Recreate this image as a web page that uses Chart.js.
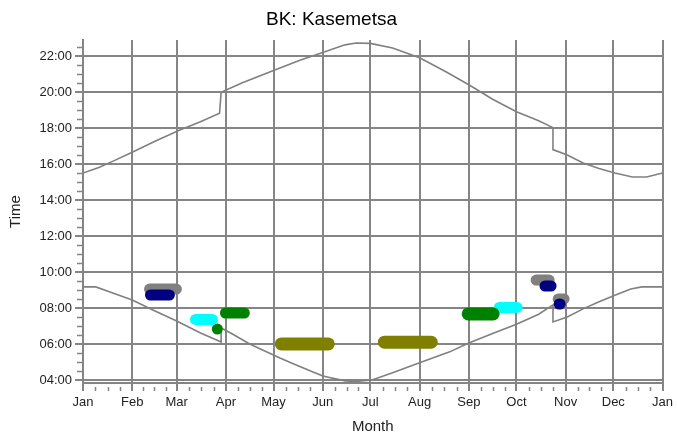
<!DOCTYPE html>
<html>
<head>
<meta charset="utf-8">
<script src="https://cdn.jsdelivr.net/npm/chart.js@4/dist/chart.umd.min.js"></script>
<style>
    body { margin: 0; background: #fff; }
    #wrap { width: 677px; height: 439px; }
</style>
</head>
<body>
<div id="wrap"><canvas id="sun_chart"></canvas></div>
<script>
const monthNames = ['Jan', 'Feb', 'Mar', 'Apr', 'May', 'Jun', 'Jul', 'Aug', 'Sep', 'Oct', 'Nov', 'Dec', 'Jan'];
const monthStarts = [0, 31, 59, 90, 120, 151, 181, 212, 243, 273, 304, 334, 365];
const hourTicks = [4, 6, 8, 10, 12, 14, 16, 18, 20, 22];

// sunset (day of year, hours)
const sunsetDays = [0, 10, 20, 31, 45, 61, 74, 86, 87, 100, 120, 137, 151, 165, 172, 181, 195, 212, 228, 243, 258, 273, 287, 296, 296, 305, 315, 325, 335, 346, 355, 365];
const sunsetHours = [15.5, 15.8, 16.2, 16.65, 17.25, 17.89, 18.35, 18.82, 19.98, 20.5, 21.2, 21.78, 22.2, 22.62, 22.72, 22.7, 22.45, 21.9, 21.15, 20.4, 19.6, 18.9, 18.4, 18.02, 16.8, 16.5, 16.06, 15.75, 15.5, 15.28, 15.28, 15.5];

// sunrise (day of year, hours)
const sunriseDays = [0, 8, 17, 31, 44, 59, 74, 87, 87, 93, 105, 124, 135, 151, 165, 172, 182, 195, 212, 231, 243, 258, 273, 287, 296, 296, 305, 315, 325, 335, 345, 352, 365];
const sunriseHours = [9.17, 9.17, 8.89, 8.44, 7.89, 7.28, 6.61, 6.11, 6.89, 6.61, 6.0, 5.22, 4.8, 4.22, 3.95, 3.92, 4.0, 4.4, 4.96, 5.56, 6.05, 6.58, 7.1, 7.65, 8.17, 7.22, 7.5, 7.95, 8.35, 8.7, 9.05, 9.17, 9.17];

// observations: start day, end day, time (hours)
const obsStart = [41.9, 42.5, 70.8, 89.7, 84.6, 124.9, 189.8, 242.6, 262.2, 285.4, 291.0, 299.3, 299.9];
const obsEnd = [58.8, 54.4, 81.5, 101.6, 84.8, 154.5, 219.3, 258.3, 273.4, 293.6, 294.8, 303.0, 300.5];
const obsTime = [9.05, 8.72, 7.36, 7.72, 6.83, 6.0, 6.1, 7.67, 8.03, 9.55, 9.22, 8.5, 8.22];
const obsColors = ['#808080', '#000080', '#00ffff', '#008000', '#008000', '#808000', '#808000', '#008000', '#00ffff', '#808080', '#000080', '#808080', '#000080'];

const gridGray = '#858585';
const fontFamily = "'Liberation Sans', Arial, sans-serif";

function toPoints(xs, ys) {
    return xs.map(function (x, i) {
        return {x: x, y: ys[i]};
    });
}

function isMonthStart(value) {
    return monthStarts.indexOf(value) !== -1;
}

function isMajorHour(value) {
    return hourTicks.indexOf(value) !== -1;
}

function buildDatasets() {
    const datasets = [];
    obsStart.forEach(function (start, i) {
        const color = obsColors[i];
        datasets.push({
            data: [{x: start, y: obsTime[i]}, {x: obsEnd[i], y: obsTime[i]}],
            borderColor: color,
            backgroundColor: color,
            borderWidth: (color === '#808000' || i === 7) ? 13 : 11,
            borderCapStyle: 'round',
            showLine: true,
            pointRadius: 0,
            order: color === '#808080' ? 2 : 1
        });
    });
    datasets.push({
        data: toPoints(sunsetDays, sunsetHours),
        borderColor: '#808080',
        borderWidth: 1.6,
        showLine: true,
        pointRadius: 0,
        order: 3
    });
    datasets.push({
        data: toPoints(sunriseDays, sunriseHours),
        borderColor: '#808080',
        borderWidth: 1.6,
        showLine: true,
        pointRadius: 0,
        order: 3
    });
    return datasets;
}

const minorTicks = {
    id: 'minorTicks',
    afterDraw: function (chart) {
        const ctx = chart.ctx;
        const xScale = chart.scales.x;
        const yScale = chart.scales.y;
        ctx.save();
        ctx.strokeStyle = gridGray;
        ctx.lineWidth = 1.5;
        ctx.beginPath();
        xScale.ticks.forEach(function (t) {
            if (!isMonthStart(t.value)) {
                const px = Math.round(xScale.getPixelForValue(t.value)) + 0.5;
                ctx.moveTo(px, chart.chartArea.bottom + 4);
                ctx.lineTo(px, chart.chartArea.bottom + 8);
            }
        });
        yScale.ticks.forEach(function (t) {
            if (!isMajorHour(t.value)) {
                const py = Math.round(yScale.getPixelForValue(t.value)) + 0.5;
                ctx.moveTo(chart.chartArea.left - 1, py);
                ctx.lineTo(chart.chartArea.left - 6, py);
            }
        });
        ctx.stroke();
        ctx.restore();
    }
};

const chartElement = document.getElementById('sun_chart').getContext('2d');
const sunChart = new Chart(chartElement, {
    type: 'scatter',
    data: {datasets: buildDatasets()},
    plugins: [minorTicks],
    options: {
        responsive: true,
        maintainAspectRatio: false,
        animation: false,
        layout: {padding: {left: 0, right: 14, top: 0, bottom: 0}},
        plugins: {
            legend: {display: false},
            tooltip: {enabled: false},
            title: {
                display: true,
                text: 'BK: Kasemetsa',
                color: '#000',
                font: {family: fontFamily, size: 19, weight: 'normal', lineHeight: 1.2},
                padding: {top: 8, bottom: 9.2}
            }
        },
        scales: {
            x: {
                type: 'linear',
                min: 0,
                max: 365,
                afterBuildTicks: function (scale) {
                    const ticks = [];
                    for (let m = 0; m < 12; m++) {
                        const a = monthStarts[m];
                        const b = monthStarts[m + 1];
                        for (let q = 0; q < 4; q++) {
                            ticks.push({value: q === 0 ? a : a + (b - a) * q / 4});
                        }
                    }
                    ticks.push({value: 365});
                    scale.ticks = ticks;
                },
                afterFit: function (scale) {
                    scale.height = 56;
                },
                ticks: {
                    autoSkip: false,
                    maxRotation: 0,
                    padding: 4,
                    color: '#222',
                    font: {family: fontFamily, size: 13},
                    callback: function (value) {
                        const i = monthStarts.indexOf(value);
                        return i === -1 ? '' : monthNames[i];
                    }
                },
                grid: {
                    lineWidth: 2,
                    tickLength: 8,
                    color: function (c) {
                        return c.tick && isMonthStart(c.tick.value) ? gridGray : 'rgba(0,0,0,0)';
                    },
                    tickColor: function (c) {
                        return c.tick && isMonthStart(c.tick.value) ? gridGray : 'rgba(0,0,0,0)';
                    }
                },
                border: {color: gridGray, width: 2},
                title: {
                    display: true,
                    text: 'Month',
                    color: '#222',
                    font: {family: fontFamily, size: 15},
                    padding: {top: 0, bottom: 3}
                }
            },
            y: {
                type: 'linear',
                min: 3.83,
                max: 22.89,
                afterBuildTicks: function (scale) {
                    const ticks = [];
                    for (let h = 4; h <= 22.5; h += 0.5) {
                        ticks.push({value: h});
                    }
                    scale.ticks = ticks;
                },
                afterFit: function (scale) {
                    scale.width = 83;
                },
                ticks: {
                    autoSkip: false,
                    padding: 3,
                    color: '#222',
                    font: {family: fontFamily, size: 13},
                    callback: function (value) {
                        if (!isMajorHour(value)) return '';
                        return (value < 10 ? '0' : '') + value + ':00';
                    }
                },
                grid: {
                    lineWidth: 2,
                    tickLength: 8,
                    color: function (c) {
                        return c.tick && isMajorHour(c.tick.value) ? gridGray : 'rgba(0,0,0,0)';
                    },
                    tickColor: function (c) {
                        return c.tick && isMajorHour(c.tick.value) ? gridGray : 'rgba(0,0,0,0)';
                    }
                },
                border: {color: gridGray, width: 2},
                title: {
                    display: true,
                    text: 'Time',
                    color: '#222',
                    font: {family: fontFamily, size: 15},
                    padding: {top: 7, bottom: 0}
                }
            }
        }
    }
});
</script>
</body>
</html>
